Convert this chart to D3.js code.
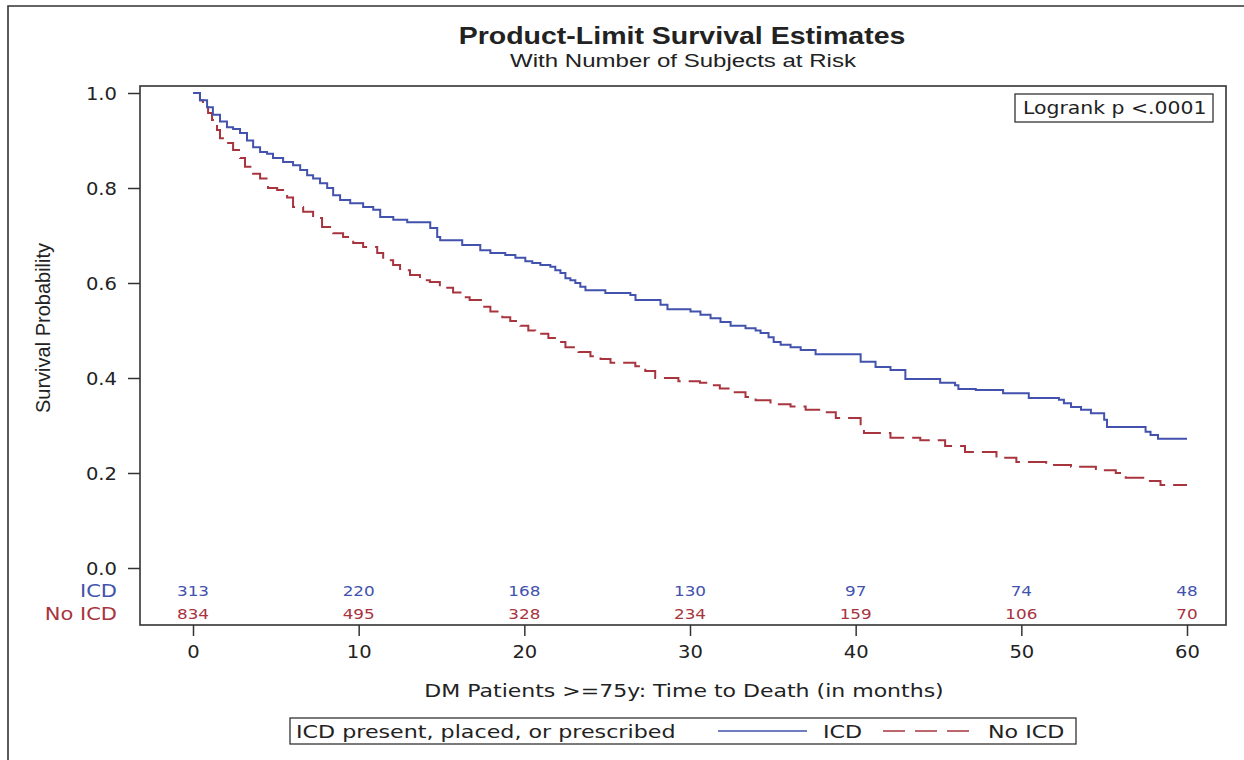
<!DOCTYPE html>
<html>
<head>
<meta charset="utf-8">
<script src="https://cdn.jsdelivr.net/npm/d3@7"></script>
<style>
  body { margin: 0; background: #fff; }
  svg { display: block; }
</style>
</head>
<body>
<svg id="chart" width="1244" height="760"></svg>
<script>
// Kaplan-Meier steps: [month, survival]
const icdSteps = [
  [0, 1.0], [0.42, 0.985], [0.85, 0.97], [1.2, 0.954], [1.63, 0.94], [2.05, 0.928],
  [2.42, 0.924], [2.84, 0.916], [3.26, 0.90], [3.63, 0.886], [4.05, 0.876], [4.47, 0.872],
  [4.83, 0.863], [5.44, 0.855], [6.04, 0.848], [6.47, 0.838], [6.89, 0.827], [7.25, 0.82],
  [7.67, 0.81], [8.1, 0.80], [8.46, 0.785], [8.88, 0.775], [9.49, 0.768], [10.27, 0.76],
  [10.88, 0.754], [11.3, 0.739], [12.09, 0.733], [12.93, 0.728], [14.32, 0.716], [14.74, 0.697],
  [14.92, 0.69], [16.25, 0.68], [17.34, 0.669], [17.95, 0.663], [18.85, 0.659], [19.46, 0.653],
  [20.06, 0.646], [20.48, 0.642], [20.97, 0.638], [21.57, 0.634], [21.87, 0.627], [22.18, 0.621],
  [22.48, 0.61], [22.78, 0.606], [23.08, 0.6], [23.38, 0.592], [23.69, 0.585], [24.89, 0.579],
  [26.4, 0.575], [26.71, 0.564], [28.22, 0.554], [28.64, 0.545], [30.03, 0.54], [30.63, 0.533],
  [31.24, 0.526], [31.84, 0.518], [32.45, 0.51], [33.35, 0.505], [33.96, 0.5], [34.26, 0.495],
  [34.74, 0.486], [35.05, 0.476], [35.47, 0.47], [36.07, 0.465], [36.68, 0.459], [37.58, 0.45],
  [40.3, 0.434], [41.2, 0.423], [42.1, 0.417], [43.0, 0.398], [45.1, 0.39], [46.0, 0.385],
  [46.2, 0.377], [47.25, 0.375], [48.9, 0.368], [50.45, 0.358], [52.27, 0.354], [52.57, 0.347],
  [53.0, 0.339], [53.6, 0.333], [54.2, 0.326], [55.0, 0.312], [55.17, 0.297], [57.5, 0.287],
  [57.8, 0.28], [58.25, 0.272], [60, 0.272]
];

const noIcdSteps = [
  [0, 1.0], [0.42, 0.985], [0.6, 0.97], [0.91, 0.958], [1.15, 0.943], [1.45, 0.922],
  [1.63, 0.905], [2.05, 0.895], [2.42, 0.88], [2.84, 0.863], [3.14, 0.845], [3.63, 0.83],
  [4.05, 0.82], [4.53, 0.80], [5.08, 0.796], [5.68, 0.78], [6.04, 0.76], [6.65, 0.75],
  [7.25, 0.737], [7.79, 0.718], [8.46, 0.705], [9.06, 0.697], [9.67, 0.684], [10.27, 0.676],
  [11.12, 0.663], [11.48, 0.648], [12.08, 0.638], [12.5, 0.627], [13.1, 0.617], [13.7, 0.606],
  [14.3, 0.602], [14.9, 0.59], [15.7, 0.58], [16.3, 0.57], [16.7, 0.564], [17.46, 0.55],
  [17.95, 0.54], [18.67, 0.528], [19.15, 0.52], [19.76, 0.51], [20.24, 0.50], [20.66, 0.493],
  [21.45, 0.484], [21.93, 0.476], [22.48, 0.465], [23.26, 0.455], [23.99, 0.446], [24.6, 0.44],
  [25.2, 0.432], [26.7, 0.425], [27.3, 0.415], [27.9, 0.40], [29.3, 0.393], [30.6, 0.39],
  [31.06, 0.385], [31.8, 0.378], [32.45, 0.37], [33.35, 0.36], [33.96, 0.353], [34.86, 0.345],
  [36.07, 0.34], [36.98, 0.333], [37.9, 0.328], [38.8, 0.316], [40.3, 0.30], [40.5, 0.284],
  [42.1, 0.274], [43.9, 0.269], [45.4, 0.257], [46.6, 0.244], [48.5, 0.232], [49.7, 0.223],
  [51.5, 0.217], [53.0, 0.213], [54.5, 0.206], [55.7, 0.20], [56.3, 0.19], [57.5, 0.183],
  [58.4, 0.175], [60, 0.175]
];

// Number at risk table
const riskTimes = [0, 10, 20, 30, 40, 50, 60];
const icdAtRisk = [313, 220, 168, 130, 97, 74, 48];
const noIcdAtRisk = [834, 495, 328, 234, 159, 106, 70];

const yTicks = [0, 0.2, 0.4, 0.6, 0.8, 1.0];

const blue = "#4252ad";
const red = "#a8343e";
const ink = "#333";

const svg = d3.select("#chart");

// frame of the whole graph (only left and top edges are visible)
svg.append("path")
    .attr("d", "M8,760V6H1244")
    .attr("fill", "none")
    .attr("stroke", ink)
    .attr("stroke-width", 1.6);

const plot = { left: 140, top: 86, right: 1226, bottom: 625 };

const x = d3.scaleLinear().domain([0, 60]).range([193, 1187]);
const y = d3.scaleLinear().domain([0, 1]).range([568, 93]);

// helper: text that is a bit wider than the font (the reference is stretched)
function label(parent, px, py, str, o) {
    const g = parent.append("g")
        .attr("transform", `translate(${px},${py}) scale(${o.sx || 1},1)`);
    return g.append("text")
        .attr("text-anchor", o.anchor || "start")
        .attr("font-family", o.font || "DejaVu Sans")
        .attr("font-size", o.size)
        .attr("font-weight", o.weight || "normal")
        .attr("fill", o.color || "#222")
        .text(str);
}

// titles
label(svg, 682, 44, "Product-Limit Survival Estimates",
    { anchor: "middle", font: "Liberation Sans", size: 23, weight: "bold", sx: 1.24 });
label(svg, 683, 67, "With Number of Subjects at Risk",
    { anchor: "middle", font: "Liberation Sans", size: 18.5, sx: 1.3 });

// y axis
const yAxis = svg.append("g")
    .attr("transform", `translate(${plot.left},0)`)
    .call(d3.axisLeft(y).tickValues(yTicks).tickFormat(d3.format(".1f")).tickSize(12));
yAxis.select(".domain").remove();
yAxis.selectAll("line").attr("stroke", ink).attr("stroke-width", 1.5);
yAxis.selectAll("text")
    .attr("x", 0)
    .attr("dy", "0.36em")
    .attr("transform", "translate(-23,0) scale(1.15,1)")
    .attr("font-family", "DejaVu Sans")
    .attr("font-size", 17)
    .attr("fill", "#222");

// x axis
const xAxis = svg.append("g")
    .attr("transform", `translate(0,${plot.bottom})`)
    .call(d3.axisBottom(x).tickValues(riskTimes).tickSize(11).tickPadding(10));
xAxis.select(".domain").remove();
xAxis.selectAll("line").attr("stroke", ink).attr("stroke-width", 1.5);
xAxis.selectAll("text")
    .attr("y", 0)
    .attr("dy", "0.71em")
    .attr("transform", "translate(0,21) scale(1.15,1)")
    .attr("font-family", "DejaVu Sans")
    .attr("font-size", 17)
    .attr("fill", "#222");

// plot frame
svg.append("rect")
    .attr("x", plot.left)
    .attr("y", plot.top)
    .attr("width", plot.right - plot.left)
    .attr("height", plot.bottom - plot.top)
    .attr("fill", "none")
    .attr("stroke", ink)
    .attr("stroke-width", 1.6);

// axis titles
const yt = svg.append("g").attr("transform", "translate(50,328) rotate(-90)");
yt.append("text")
    .attr("text-anchor", "middle")
    .attr("font-family", "Liberation Sans")
    .attr("font-size", 20)
    .attr("fill", "#222")
    .text("Survival Probability");

label(svg, 684, 697, "DM Patients >=75y: Time to Death (in months)",
    { anchor: "middle", size: 18.5, sx: 1.19 });

// survival curves
const line = d3.line()
    .x(d => x(d[0]))
    .y(d => y(d[1]))
    .curve(d3.curveStepAfter);

svg.append("path")
    .datum(noIcdSteps)
    .attr("fill", "none")
    .attr("stroke", red)
    .attr("stroke-width", 2)
    .attr("stroke-dasharray", "20,8")
    .attr("d", line);

svg.append("path")
    .datum(icdSteps)
    .attr("fill", "none")
    .attr("stroke", blue)
    .attr("stroke-width", 2)
    .attr("d", line);

// number at risk rows
label(svg, 117, 597, "ICD", { anchor: "end", size: 17.5, sx: 1.2, color: blue });
label(svg, 117, 620, "No ICD", { anchor: "end", size: 17.5, sx: 1.2, color: red });

riskTimes.forEach((t, i) => {
    label(svg, x(t), 596, icdAtRisk[i], { anchor: "middle", size: 14, sx: 1.2, color: blue });
    label(svg, x(t), 619, noIcdAtRisk[i], { anchor: "middle", size: 14, sx: 1.2, color: red });
});

// logrank inset
svg.append("rect")
    .attr("x", 1015).attr("y", 94)
    .attr("width", 198).attr("height", 28)
    .attr("fill", "#fff")
    .attr("stroke", ink)
    .attr("stroke-width", 1.3);
label(svg, 1023, 114, "Logrank p <.0001", { size: 17, sx: 1.2 });

// legend
const lg = svg.append("g");
lg.append("rect")
    .attr("x", 290).attr("y", 718)
    .attr("width", 786).attr("height", 26)
    .attr("fill", "#fff")
    .attr("stroke", ink)
    .attr("stroke-width", 1.3);
label(lg, 296, 738, "ICD present, placed, or prescribed", { size: 18.5, sx: 1.2 });
lg.append("line")
    .attr("x1", 718).attr("x2", 807).attr("y1", 731).attr("y2", 731)
    .attr("stroke", blue).attr("stroke-width", 1.6);
label(lg, 823, 738, "ICD", { size: 18.5, sx: 1.2 });
lg.append("line")
    .attr("x1", 883).attr("x2", 969).attr("y1", 731).attr("y2", 731)
    .attr("stroke", red).attr("stroke-width", 1.6)
    .attr("stroke-dasharray", "22,10");
label(lg, 988, 738, "No ICD", { size: 18.5, sx: 1.2 });
</script>
</body>
</html>
